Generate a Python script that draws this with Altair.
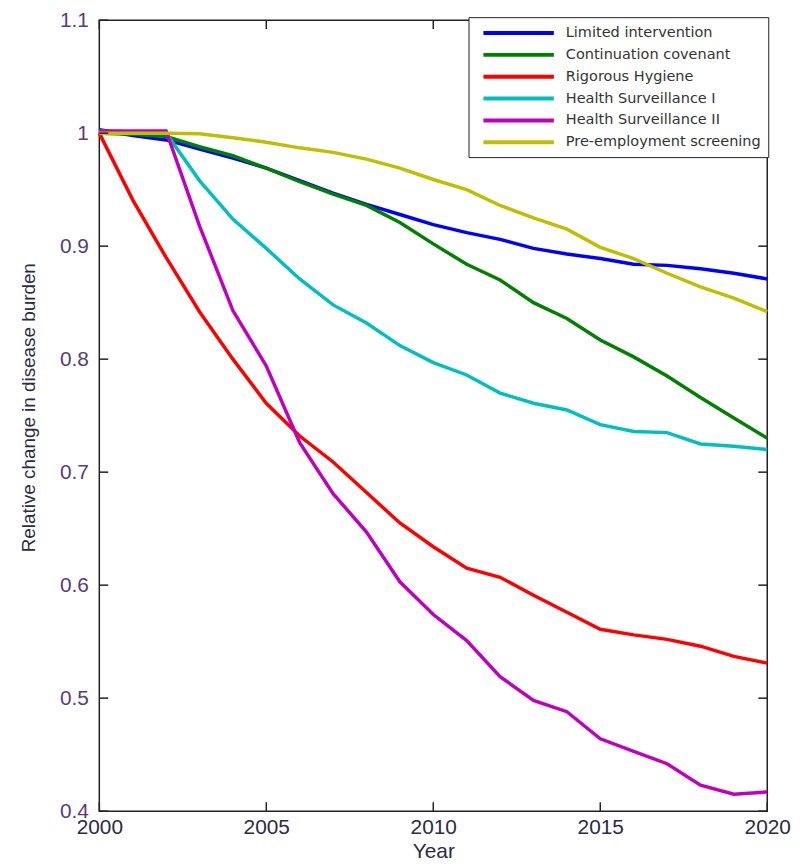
import altair as alt
import pandas as pd

years = list(range(2000, 2021))
series_names = ["Limited intervention", "Continuation covenant", "Rigorous Hygiene",
                "Health Surveillance I", "Health Surveillance II", "Pre-employment screening"]
series_colors = ["#0000FF", "#008000", "#FF0000", "#00BFBF", "#BF00BF", "#BFBF00"]

limited = [1.003, 0.998, 0.994, 0.986, 0.978, 0.969, 0.958, 0.947, 0.937, 0.928, 0.919,
           0.912, 0.906, 0.898, 0.893, 0.889, 0.884, 0.883, 0.880, 0.876, 0.871]
continuation = [1.0, 0.999, 0.997, 0.988, 0.980, 0.969, 0.957, 0.946, 0.936, 0.921, 0.902,
                0.884, 0.870, 0.850, 0.836, 0.817, 0.802, 0.785, 0.766, 0.748, 0.730]
hygiene = [1.0, 0.941, 0.890, 0.842, 0.800, 0.761, 0.732, 0.709, 0.682, 0.655, 0.634,
           0.615, 0.607, 0.591, 0.576, 0.561, 0.556, 0.552, 0.546, 0.537, 0.531]
surveillance1 = [1.002, 1.001, 1.0, 0.958, 0.924, 0.898, 0.871, 0.848, 0.832, 0.812, 0.797,
                 0.786, 0.770, 0.761, 0.755, 0.742, 0.736, 0.735, 0.725, 0.723, 0.720]
surveillance2 = [1.002, 1.002, 1.002, 0.918, 0.843, 0.794, 0.726, 0.681, 0.647, 0.603, 0.574,
                 0.551, 0.519, 0.498, 0.488, 0.464, 0.453, 0.442, 0.423, 0.415, 0.417]
screening = [1.0, 1.0, 1.0, 0.9995, 0.996, 0.992, 0.987, 0.983, 0.977, 0.969, 0.959,
             0.950, 0.936, 0.925, 0.915, 0.899, 0.889, 0.876, 0.864, 0.854, 0.842]

x_ticks = [2000, 2005, 2010, 2015, 2020]
y_ticks = [0.4, 0.5, 0.6, 0.7, 0.8, 0.9, 1.0, 1.1]

all_series = [limited, continuation, hygiene, surveillance1, surveillance2, screening]
rows = []
for order, (name, vals) in enumerate(zip(series_names, all_series)):
    for yr, v in zip(years, vals):
        rows.append({"Year": yr, "Value": v, "Series": name, "o": order})
df = pd.DataFrame(rows)

W, H = 673, 797
TL = 9
FONT = "Liberation Sans, Arial, sans-serif"

x_scale = alt.Scale(domain=[2000, 2020], nice=False, zero=False)
y_scale = alt.Scale(domain=[0.4, 1.1], nice=False, zero=False)

x_axis = alt.Axis(values=x_ticks, format="d", ticks=False, tickSize=0, domain=False, grid=False,
                  labelFont=FONT, labelFontSize=21, labelColor="#2e2a45", labelPadding=6,
                  labelFlush=False,
                  title="Year", titleFont=FONT, titleFontSize=21, titleFontWeight="normal",
                  titleColor="#2e2a45", titlePadding=3)
y_axis = alt.Axis(values=y_ticks, format=".1~f", ticks=False, tickSize=0, domain=False, grid=False,
                  labelFont=FONT, labelFontSize=21, labelColor="#5a3a80", labelPadding=11,
                  labelFlush=False,
                  title="Relative change in disease burden", titleFont=FONT, titleFontSize=19,
                  titleFontWeight="normal", titleColor="#2e2a45", titlePadding=21, titleY=390)

lines = alt.Chart(df).mark_line(strokeWidth=3.5).encode(
    x=alt.X("Year:Q", scale=x_scale, axis=x_axis),
    y=alt.Y("Value:Q", scale=y_scale, axis=y_axis),
    color=alt.Color("Series:N", scale=alt.Scale(domain=series_names, range=series_colors),
                    title=None,
                    legend=alt.Legend(orient="none", legendX=372, legendY=-3,
                                      direction="vertical", fillColor="white",
                                      strokeColor="#222", padding=7,
                                      symbolType="M-0.14,0H10", symbolSize=196,
                                      symbolStrokeWidth=4, labelFont="DejaVu Sans",
                                      labelFontSize=14.6, labelColor="#333",
                                      labelOffset=73, rowPadding=5, labelLimit=400)),
    order=alt.Order("o:Q"),
)

xt = pd.DataFrame({"t": x_ticks})
yt = pd.DataFrame({"t": y_ticks})

bottom_ticks = alt.Chart(xt).mark_rule(color="#222", strokeWidth=1.5).encode(
    x=alt.X("t:Q", scale=x_scale), y=alt.value(H), y2=alt.value(H - TL))
top_ticks = alt.Chart(xt).mark_rule(color="#222", strokeWidth=1.5).encode(
    x=alt.X("t:Q", scale=x_scale), y=alt.value(0), y2=alt.value(TL))
left_ticks = alt.Chart(yt).mark_rule(color="#222", strokeWidth=1.5).encode(
    y=alt.Y("t:Q", scale=y_scale), x=alt.value(0), x2=alt.value(TL))
right_ticks = alt.Chart(yt).mark_rule(color="#222", strokeWidth=1.5).encode(
    y=alt.Y("t:Q", scale=y_scale), x=alt.value(W), x2=alt.value(W - TL))

chart = alt.layer(lines, bottom_ticks, top_ticks, left_ticks, right_ticks).properties(
    width=W, height=H,
    padding={"left": 11, "top": -2, "right": 10, "bottom": 0},
    background="white",
).configure_view(stroke="#222", strokeWidth=1.5)

chart.save("out.html", embed_options={"renderer": "svg", "actions": False})
